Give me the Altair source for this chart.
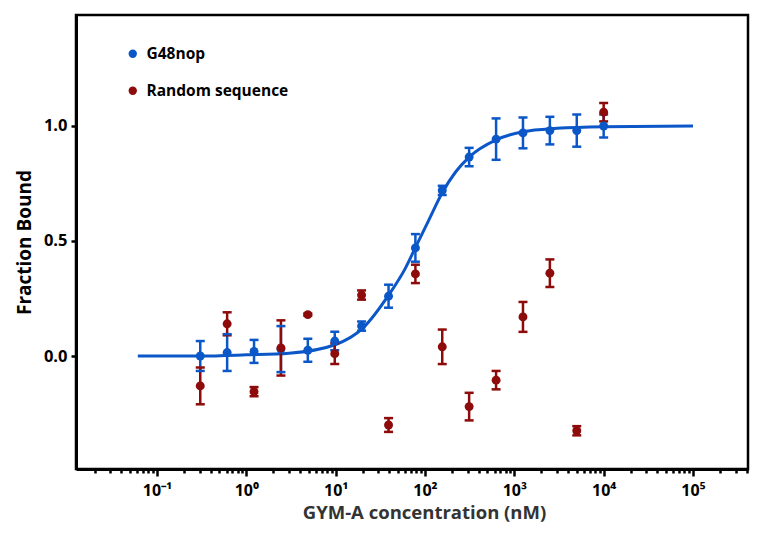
import altair as alt
import pandas as pd

# concentrations (nM), 2-fold dilutions
conc = [0.305, 0.61, 1.22, 2.44, 4.88, 9.77, 19.5, 39.1, 78.1, 156, 312, 625, 1250, 2500, 5000, 10000]
g48_mean = [0.00, 0.015, 0.02, 0.03, 0.025, 0.065, 0.13, 0.26, 0.47, 0.72, 0.865, 0.943, 0.97, 0.98, 0.98, 1.00]
g48_err = [0.065, 0.08, 0.05, 0.10, 0.05, 0.04, 0.02, 0.05, 0.06, 0.02, 0.04, 0.09, 0.067, 0.06, 0.07, 0.05]
rnd_mean = [-0.13, 0.14, -0.155, 0.035, 0.18, 0.01, 0.265, -0.30, 0.357, 0.04, -0.22, -0.105, 0.17, 0.36, -0.325, 1.06]
rnd_err = [0.08, 0.05, 0.02, 0.12, 0.005, 0.045, 0.02, 0.03, 0.04, 0.075, 0.06, 0.04, 0.065, 0.06, 0.02, 0.04]

# fitted curve
curve_x = [0.061, 0.3, 1, 3, 10, 20, 40, 60, 80, 110, 156, 220, 312, 625, 1250, 3000, 10000, 100000]
curve_y = [0.0, 0.0, 0.005, 0.012, 0.05, 0.12, 0.27, 0.38, 0.48, 0.59, 0.71, 0.80, 0.865, 0.94, 0.975, 0.99, 0.997, 1.0]

series_names = ["G48nop", "Random sequence"]
colors = ["#0B57C8", "#8E0B0B"]

x_ticks = []
for e in range(-2, 6):
    for m in range(1, 10):
        v = m * 10.0 ** e
        if 0.0124 <= v <= 412000:
            x_ticks.append(v)

rows = []
for c, m, s in zip(conc, g48_mean, g48_err):
    rows.append({"conc": c, "mean": m, "lo": m - s, "hi": m + s, "series": series_names[0]})
for c, m, s in zip(conc, rnd_mean, rnd_err):
    rows.append({"conc": c, "mean": m, "lo": m - s, "hi": m + s, "series": series_names[1]})
df = pd.DataFrame(rows)
curve = pd.DataFrame({"conc": curve_x, "fit": curve_y})

FONT = "Open Sans"
is_dec = "abs(log(datum.value)/LN10 - round(log(datum.value)/LN10)) < 0.01"

xscale = alt.Scale(type="log", domain=[0.0124, 412800], nice=False)
yscale = alt.Scale(domain=[-0.4913, 1.4826], nice=False, zero=False)

xaxis = alt.Axis(
    values=x_ticks,
    labelExpr=f"{is_dec} ? '10' + ['⁻¹','⁰','¹','²','³','⁴','⁵'][round(log(datum.value)/LN10)+1] : ''",
    tickSize={"condition": {"test": is_dec, "value": 7}, "value": 4},
    tickWidth=2.5, tickColor="black",
    labelOverlap=False, labelFlush=False, labelBound=False,
    labelFont=FONT, labelFontSize=16, labelFontWeight="bold", labelColor="black", labelPadding=6,
    title="GYM-A concentration (nM)", titleFont=FONT, titleFontSize=18.5, titleFontWeight="bold",
    titleColor="#333333", titlePadding=5, titleX=348,
    domainColor="black", domainWidth=3, grid=False,
)
yaxis = alt.Axis(
    values=[0, 0.5, 1.0], format=".1f",
    tickSize=5, tickWidth=2.5, tickColor="black",
    labelFont=FONT, labelFontSize=16.5, labelFontWeight="bold", labelColor="black", labelPadding=4,
    title="Fraction Bound", titleFont=FONT, titleFontSize=19, titleFontWeight="bold",
    titleColor="black", titlePadding=9,
    domainColor="black", domainWidth=3, grid=False,
)

color = alt.Color("series:N", scale=alt.Scale(domain=series_names, range=colors),
                  legend=alt.Legend(title=None, orient="none", legendX=49, legendY=31,
                                    symbolType="circle", symbolSize=70, symbolStrokeWidth=0,
                                    symbolOpacity=1,
                                    labelFont=FONT, labelFontSize=15.5, labelFontWeight="bold",
                                    labelColor="black", rowPadding=20, labelOffset=6))

base = alt.Chart(df)
bars = base.mark_rule(strokeWidth=2.5, opacity=1).encode(
    x=alt.X("conc:Q", scale=xscale, axis=xaxis),
    y=alt.Y("lo:Q", scale=yscale, axis=yaxis),
    y2="hi:Q",
    color=color,
)
cap_lo = base.mark_tick(orient="horizontal", size=9, thickness=2.5, opacity=1).encode(
    x="conc:Q", y="lo:Q", color=color,
)
cap_hi = base.mark_tick(orient="horizontal", size=9, thickness=2.5, opacity=1).encode(
    x="conc:Q", y="hi:Q", color=color,
)
pts = base.mark_circle(size=80, opacity=1).encode(
    x="conc:Q", y="mean:Q", color=color,
)
line = alt.Chart(curve).mark_line(color=colors[0], strokeWidth=3, interpolate="monotone").encode(
    x="conc:Q", y="fit:Q",
)

chart = alt.layer(line, bars, cap_lo, cap_hi, pts).properties(
    width=672, height=454,
    background="white",
    autosize=alt.AutoSizeParams(type="none"),
    padding={"left": 68, "top": 7, "right": 8, "bottom": 55},
).configure_view(stroke="black", strokeWidth=2.5)

chart.save("out.html", embed_options={"renderer": "svg", "actions": False})
